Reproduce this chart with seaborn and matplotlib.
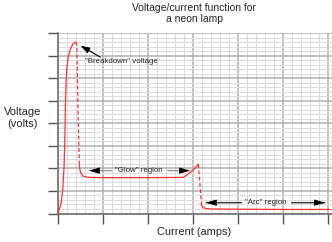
import matplotlib
matplotlib.use("Agg")
import matplotlib.pyplot as plt
import seaborn as sns
import numpy as np
import pandas as pd
from matplotlib.ticker import MultipleLocator, NullFormatter

# ---- data (x in major grid units, y in major grid units) ----
rise_x = [0, 0.067, 0.104, 0.133, 0.149, 0.16, 0.167, 0.184, 0.2, 0.229, 0.282, 0.34, 0.4]
rise_y = [0, 0.45, 1.0, 1.99, 2.99, 4.14, 5.03, 5.99, 6.51, 6.95, 7.32, 7.54, 7.6]

break_x = [0.4, 0.42, 0.445, 0.475]
break_y = [7.6, 7.45, 4.5, 2.15]

glow_x = [0.475, 0.485, 0.505, 0.556, 0.667, 1.0, 2.0, 2.78, 2.86, 2.93, 3.02, 3.08, 3.12]
glow_y = [2.15, 1.95, 1.8, 1.66, 1.6, 1.59, 1.59, 1.6, 1.7, 1.81, 1.96, 2.09, 2.18]

drop_x = [3.12, 3.19]
drop_y = [2.18, 0.38]

arc_x = [3.19, 3.22, 3.29, 3.42, 4.0, 5.0, 6.05]
arc_y = [0.38, 0.27, 0.22, 0.2, 0.19, 0.18, 0.18]

title_text = "Voltage/current function for\na neon lamp"
xlabel_text = "Current (amps)"
ylabel_text = "Voltage\n(volts)"

sns.set_style("white")
plt.rcParams["font.family"] = ["Liberation Sans", "DejaVu Sans"]

fig = plt.figure(figsize=(3.32, 2.42), dpi=100)
ax = fig.add_axes([58 / 332, (242 - 213.5) / 242, 274 / 332, 180.5 / 242])

red = "#ff3030"
segments = [
    (rise_x, rise_y, "-"),
    (break_x, break_y, (0, (3, 2))),
    (glow_x, glow_y, "-"),
    (drop_x, drop_y, (0, (3, 2))),
    (arc_x, arc_y, "-"),
]
for xs, ys, ls in segments:
    df = pd.DataFrame({"x": xs, "y": ys})
    sns.lineplot(data=df, x="x", y="y", ax=ax, sort=False, estimator=None,
                 color=red, linewidth=0.9, linestyle=ls, zorder=5)

ax.set_xlim(0, 274 / 45)
ax.set_ylim(0, 8)
ax.xaxis.set_major_locator(MultipleLocator(1))
ax.yaxis.set_major_locator(MultipleLocator(1))
ax.xaxis.set_minor_locator(MultipleLocator(0.2))
ax.yaxis.set_minor_locator(MultipleLocator(0.2))
ax.xaxis.set_major_formatter(NullFormatter())
ax.yaxis.set_major_formatter(NullFormatter())
ax.grid(which="major", color="#b0b0b0", linewidth=1.1, zorder=1)
ax.grid(which="minor", color="#dddddd", linewidth=0.8, zorder=0)
ax.set_axisbelow(True)
ax.set_xlabel("")
ax.set_ylabel("")

for s in ["top", "right"]:
    ax.spines[s].set_visible(False)
for s in ["left", "bottom"]:
    ax.spines[s].set_color("#707070")
    ax.spines[s].set_linewidth(1.2)
ax.tick_params(which="major", direction="out", length=7, width=1.0, color="#555555",
               left=True, bottom=True)
ax.tick_params(which="minor", length=0)

# text
fig.text(194 / 332, 1 - 13.5 / 242, title_text, ha="center", va="center",
         fontsize=7.5, linespacing=1.2)
fig.text(194 / 332, 1 - 232 / 242, xlabel_text, ha="center", va="center", fontsize=7.9)
fig.text(22.5 / 332, 1 - 118 / 242, ylabel_text, ha="center", va="center",
         fontsize=8.0, linespacing=1.25)

ann = 5.7
# Breakdown
ax.text(0.6, 6.72, '"Breakdown" voltage', ha="left", va="center", fontsize=ann)
ax.annotate("", xy=(0.5, 7.44), xytext=(0.94, 6.93),
            arrowprops=dict(arrowstyle="-|>,head_length=0.55,head_width=0.18",
                            color="black", lw=0.8, shrinkA=0, shrinkB=0))


def dbl_arrow(x_head, x_tail, y, shaft_color):
    ax.annotate("", xy=(x_head, y), xytext=(x_tail, y),
                arrowprops=dict(arrowstyle="-", color=shaft_color, lw=1.0,
                                shrinkA=0, shrinkB=0))
    d = 0.15 if x_tail > x_head else -0.15
    ax.annotate("", xy=(x_head, y), xytext=(x_head + d, y),
                arrowprops=dict(arrowstyle="-|>,head_length=0.6,head_width=0.18",
                                color="black", lw=0.8, shrinkA=0, shrinkB=0))


# Glow region
ax.text(1.785, 1.9, '"Glow" region', ha="center", va="center", fontsize=ann)
dbl_arrow(0.69, 1.19, 1.9, "#999999")
dbl_arrow(2.93, 2.44, 1.9, "#999999")

# Arc region
ax.text(4.62, 0.48, '"Arc" region', ha="center", va="center", fontsize=ann)
dbl_arrow(3.29, 4.08, 0.48, "#333333")
dbl_arrow(5.93, 5.19, 0.48, "#333333")

fig.savefig("out.png", dpi=100)
